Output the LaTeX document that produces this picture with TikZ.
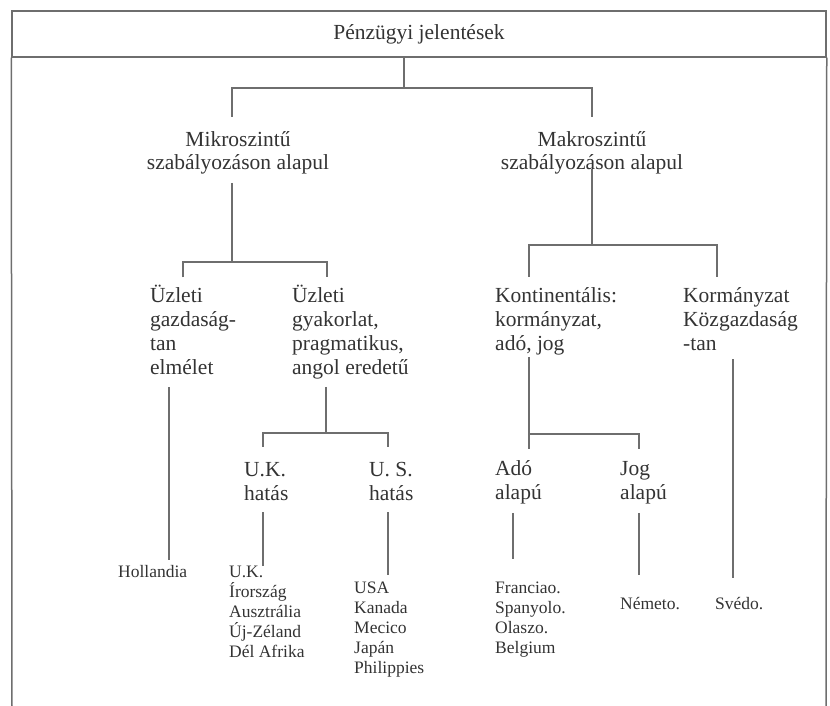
\documentclass[tikz,border=0pt]{standalone}
\usepackage{fontspec}
\setmainfont{Liberation Serif}
\usetikzlibrary{positioning}

\definecolor{lineg}{HTML}{6E6E6E}
\definecolor{textg}{HTML}{333333}

\tikzset{
  conn/.style={draw=lineg, line width=1.5pt},
  big/.style={font=\fontsize{21.5}{24}\selectfont, text=textg,
    inner sep=0pt, align=left, anchor=base west},
  small/.style={font=\fontsize{17.5}{20}\selectfont, text=textg,
    inner sep=0pt, align=left, anchor=base west}}

\begin{document}
\begin{tikzpicture}[x=1pt,y=-1pt]
        \useasboundingbox (0,0) rectangle (830,706);

        % title band and frame (anchor base = last line of a node)
        \node (title) at (419,34) [draw=lineg, line width=1.5pt, minimum width=814pt,
            minimum height=46pt, inner sep=0pt, text=textg,
            font=\fontsize{21.5}{24}\selectfont] {Pénzügyi jelentések};
        \coordinate (bl) at (12,706);
        \coordinate (br) at (826,706);
        \draw[conn] (title.south west) -- (bl);
        \draw[conn] (title.south east) -- (br);

        % level 1
        \node (mikro) at (238,170) [big, anchor=base, align=center] {Mikroszintű\\szabályozáson alapul};
        \node (makro) at (592,170) [big, anchor=base, align=center] {Makroszintű\\szabályozáson alapul};

        % level 2
        \node (uzgazd) at (150,374) [big] {Üzleti\\gazdaság-\\tan\\elmélet};
        \node (uzgyak) at (292,374) [big] {Üzleti\\gyakorlat,\\pragmatikus,\\angol eredetű};
        \node (kont)   at (495,350) [big] {Kontinentális:\\kormányzat,\\adó, jog};
        \node (korm)   at (683,350) [big] {Kormányzat\\Közgazdaság\\-tan};

        % level 3
        \node (uk)  at (244,500) [big] {U.K.\\hatás};
        \node (us)  at (369,500) [big] {U. S.\\hatás};
        \node (ado) at (495,499) [big] {Adó\\alapú};
        \node (jog) at (620,499) [big] {Jog\\alapú};

        % countries
        \node (holl)   at (118,577) [small] {Hollandia};
        \node (uklist) at (229,657) [small] {U.K.\\Írország\\Ausztrália\\Új-Zéland\\Dél Afrika};
        \node (uslist) at (354,673) [small] {USA\\Kanada\\Mecico\\Japán\\Philippies};
        \node (frlist) at (495,653) [small] {Franciao.\\Spanyolo.\\Olaszo.\\Belgium};
        \node (nemet)  at (620,609) [small] {Németo.};
        \node (sved)   at (715,609) [small] {Svédo.};

        % junctions
        \coordinate (r)  at (404,88);
        \coordinate (rl) at (232,88);
        \coordinate (rr) at (592,88);
        \coordinate (m)  at (232,262);
        \coordinate (ml) at (183,262);
        \coordinate (mr) at (327,262);
        \coordinate (k)  at (592,245);
        \coordinate (kl) at (529,245);
        \coordinate (kr) at (717,245);
        \coordinate (g)  at (326,433);
        \coordinate (gl) at (263,433);
        \coordinate (gr) at (388,433);
        \coordinate (t)  at (529,434);
        \coordinate (tr) at (639,434);
        \coordinate (hx) at (169,0);
        \coordinate (ax) at (513,0);
        \coordinate (sx) at (733,0);

        \draw[conn] (title.south -| r) -- (r);
        \draw[conn] ([yshift=14pt]mikro.north -| rl) -- (rl) -- (rr) -- ([yshift=14pt]makro.north -| rr);

        \draw[conn] ([yshift=-8pt]mikro.south -| m) -- (m);
        \draw[conn] ([yshift=7pt]uzgazd.north -| ml) -- (ml) -- (mr) -- ([yshift=7pt]uzgyak.north -| mr);

        \draw[conn] ([yshift=6pt]makro.south -| k) -- (k);
        \draw[conn] ([yshift=10pt]kont.north -| kl) -- (kl) -- (kr) -- ([yshift=10pt]korm.north -| kr);

        \draw[conn] ([yshift=-8pt]uzgyak.south -| g) -- (g);
        \draw[conn] ([yshift=15pt]uk.north -| gl) -- (gl) -- (gr) -- ([yshift=15pt]us.north -| gr);

        \draw[conn] ([yshift=-2pt]kont.south -| t) -- ([yshift=11pt]ado.north -| t);
        \draw[conn] (t) -- (tr) -- ([yshift=12pt]jog.north -| tr);

        % leaves
        \draw[conn] ([yshift=-13pt]uzgazd.south -| hx) -- ([yshift=5pt]holl.north -| hx);
        \draw[conn] ([yshift=-12pt]uk.south -| gl) -- ([yshift=-1pt]uklist.north -| gl);
        \draw[conn] ([yshift=-12pt]us.south -| gr) -- ([yshift=6pt]uslist.north -| gr);
        \draw[conn] ([yshift=-9pt]ado.south -| ax) -- ([yshift=22pt]frlist.north -| ax);
        \draw[conn] ([yshift=-9pt]jog.south -| tr) -- ([yshift=22pt]nemet.north -| tr);
        \draw[conn] ([yshift=-9pt]korm.south -| sx) -- ([yshift=19pt]sved.north -| sx);
\end{tikzpicture}
\end{document}
